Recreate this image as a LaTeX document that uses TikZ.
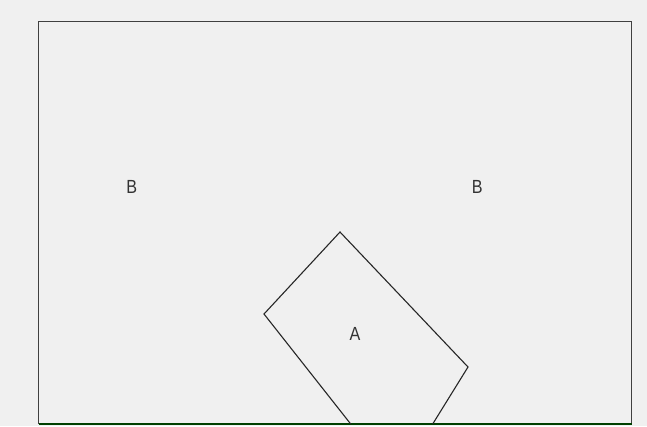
\documentclass[tikz,border=0pt]{standalone}
\usepackage{fontspec}
\setmainfont{Liberation Sans}
\begin{document}
\begin{tikzpicture}[x=1pt,y=-1pt,
  frame/.style={draw=black!75, line width=1.3pt},
  tiltbox/.style={draw=black!85, line width=1.1pt, line join=miter},
  lbl/.style={font=\fontsize{19}{22}\selectfont, text=black!80, inner sep=0pt, xscale=0.85}]
\fill[black!6] (0,0) rectangle (647,426);
\useasboundingbox (0,0) rectangle (647,426);
\coordinate (tl) at (38.5,21.7);
\coordinate (tr) at (631.7,21.7);
\coordinate (br) at (631.7,424);
\coordinate (bl) at (38.5,424);
\draw[frame] (bl) -- (tl) -- (tr) -- (br);
\draw[draw=green!25!black, line width=1.8pt] (bl) -- (br);
\coordinate (p1) at (350.7,424);
\coordinate (p2) at (264,314);
\coordinate (p3) at (340,232);
\coordinate (p4) at (468,367);
\coordinate (p5) at (432.7,424);
\draw[tiltbox] (p1) -- (p2) -- (p3) -- (p4) -- (p5);
\node[lbl] (b1) at (131.7,187) {B};
\node[lbl] (b2) at (477.3,187) {B};
\node[lbl] (a) at (355,334) {A};
\end{tikzpicture}
\end{document}
